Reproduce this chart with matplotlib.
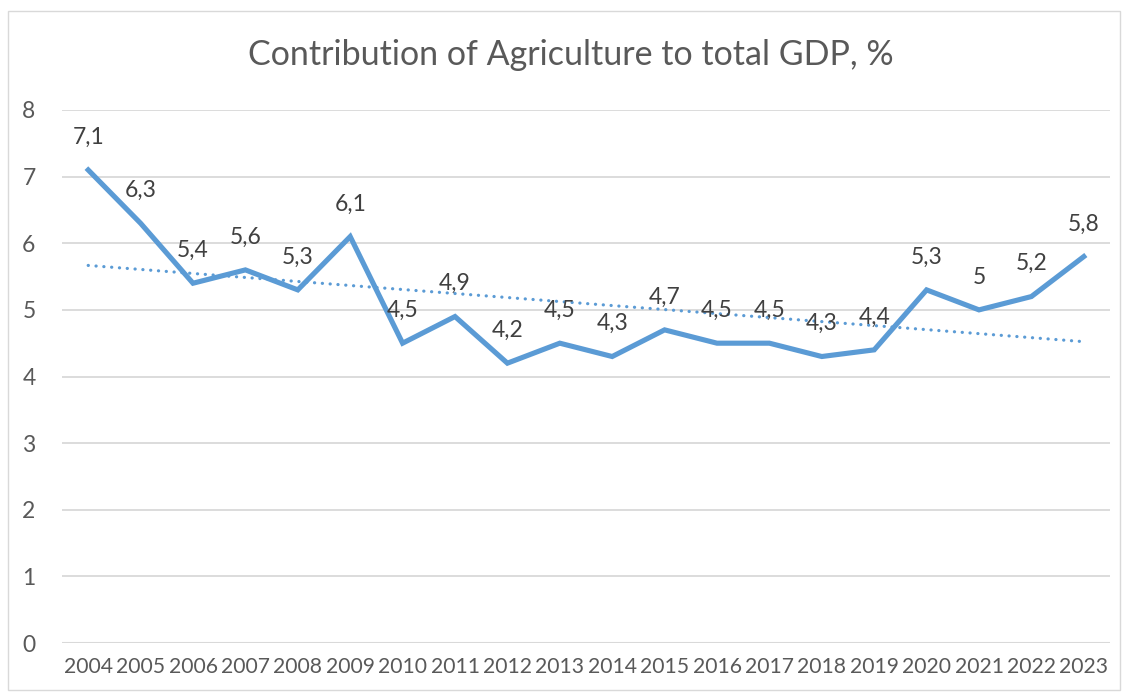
import matplotlib.pyplot as plt
import numpy as np
from matplotlib.patches import Rectangle

# data
years = ['2004', '2005', '2006', '2007', '2008', '2009', '2010', '2011', '2012', '2013',
         '2014', '2015', '2016', '2017', '2018', '2019', '2020', '2021', '2022', '2023']
share = [7.1, 6.3, 5.4, 5.6, 5.3, 6.1, 4.5, 4.9, 4.2, 4.5,
         4.3, 4.7, 4.5, 4.5, 4.3, 4.4, 5.3, 5.0, 5.2, 5.8]
yticks = [0, 1, 2, 3, 4, 5, 6, 7, 8]

plt.rcParams['font.family'] = ['Lato', 'DejaVu Sans']

blue = '#5B9BD5'
grey_txt = '#595959'

fig = plt.figure(figsize=(11.26, 6.94), dpi=100)
ax = fig.add_axes([62/1126, 1 - 643/694, 1048/1126, 533/694])

x = np.arange(len(years))
ax.plot(x, share, color=blue, lw=3.7, solid_joinstyle='miter', zorder=3)

# linear trendline like excel
k, b = np.polyfit(x, share, 1)
ax.plot(x, k * x + b, color=blue, lw=2.3, linestyle=(0, (0.05, 2.4)),
        dash_capstyle='round', zorder=2)

for xi, v in zip(x, share):
    lbl = ('%g' % v).replace('.', ',')
    ax.annotate(lbl, (xi, v), xytext=(0, 16), textcoords='offset points',
                ha='center', va='bottom', fontsize=16.5, color='#404040', zorder=4)

ax.set_xlim(-0.5, len(years) - 0.5)
ax.set_ylim(0, 8)
ax.set_yticks(yticks)
ax.set_xticks(x)
ax.set_xticklabels(years)
ax.tick_params(length=0, colors=grey_txt)
ax.tick_params(axis='y', pad=19, labelsize=16.5)
ax.tick_params(axis='x', pad=10, labelsize=15.2)
ax.grid(axis='y', color='#D9D9D9', lw=1.3)
ax.set_axisbelow(True)
for s in ax.spines.values():
    s.set_visible(False)
ax.axhline(0, color='#D9D9D9', lw=1.5, zorder=1)

fig.text(0.5 + 8/1126, 1 - 55/694, 'Contribution of Agriculture to total GDP, %',
         ha='center', va='center', fontsize=24.5, color=grey_txt)

fig.patches.append(Rectangle((8/1126, 4/694), 1112/1126, 679/694,
                             transform=fig.transFigure, fill=False,
                             edgecolor='#D9D9D9', lw=1))

fig.savefig('out.png', dpi=100)
